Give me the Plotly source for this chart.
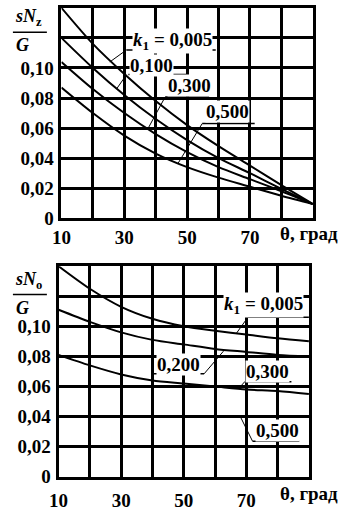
import plotly.graph_objects as go

# ---------------- data ----------------
theta = [10, 20, 30, 40, 50, 60, 70, 80, 90]

# upper chart: sN_z / G
top_k005 = [0.140, 0.116, 0.096, 0.078, 0.062, 0.048, 0.035, 0.022, 0.0095]
top_k100 = [0.120, 0.100, 0.082, 0.066, 0.052, 0.040, 0.030, 0.0195, 0.0095]
top_k300 = [0.104, 0.086, 0.070, 0.056, 0.044, 0.034, 0.026, 0.018, 0.0095]
top_k500 = [0.087, 0.070, 0.055, 0.043, 0.034, 0.027, 0.021, 0.015, 0.0095]

# lower chart: sN_o / G
bot_k005 = [0.140, 0.125, 0.113, 0.105, 0.100, 0.097, 0.0945, 0.092, 0.090]
bot_k200 = [0.111, 0.103, 0.096, 0.091, 0.088, 0.085, 0.083, 0.081, 0.080]
bot_k300 = [0.081, 0.074, 0.068, 0.064, 0.062, 0.060, 0.058, 0.057, 0.055]

x_tickvals = [10, 30, 50, 70]
x_ticktext = ["10", "30", "50", "70"]
y_tickvals = [0, 0.02, 0.04, 0.06, 0.08, 0.10]
y_ticktext = ["0", "0,02", "0,04", "0,06", "0,08", "0,10"]

W, H = 340, 517
FONT = "Liberation Serif"
FS = 19

def px(x):
    return x / W

def py(y):
    return 1 - y / H

fig = go.Figure()

line_style = dict(color="black", width=2, shape="spline", smoothing=0.8)
for ys in (top_k005, top_k100, top_k300, top_k500):
    fig.add_trace(go.Scatter(x=theta, y=ys, mode="lines", line=line_style,
                             xaxis="x", yaxis="y", showlegend=False, hoverinfo="skip"))
for ys in (bot_k005, bot_k200, bot_k300):
    fig.add_trace(go.Scatter(x=theta, y=ys, mode="lines", line=line_style,
                             xaxis="x2", yaxis="y2", showlegend=False, hoverinfo="skip"))

axis_common = dict(showgrid=True, gridcolor="black", gridwidth=2.5, zeroline=False,
                   showline=True, mirror=True, linecolor="black", linewidth=3,
                   ticks="", tickfont=dict(family=FONT, size=FS, color="black", weight="bold"))
xminor = dict(tick0=10, dtick=10, showgrid=True, gridcolor="black", gridwidth=2.5)
yminor = dict(tick0=0, dtick=0.02, showgrid=True, gridcolor="black", gridwidth=2.5)

fig.update_layout(
    width=W, height=H, margin=dict(l=0, r=0, t=0, b=0),
    paper_bgcolor="white", plot_bgcolor="white",
    xaxis=dict(domain=[px(53), px(312)], range=[10, 90], anchor="y",
               tickvals=x_tickvals, ticktext=x_ticktext, minor=xminor, **axis_common),
    yaxis=dict(domain=[py(223), py(8)], range=[0, 0.14], anchor="x",
               tickvals=y_tickvals, ticktext=y_ticktext, minor=yminor,
               ticklabelstandoff=1, **axis_common),
    xaxis2=dict(domain=[px(50), px(308)], range=[10, 90], anchor="y2",
                tickvals=x_tickvals, ticktext=x_ticktext, minor=xminor,
                ticklabelstandoff=5, **axis_common),
    yaxis2=dict(domain=[py(487), py(272)], range=[0, 0.14], anchor="x2",
                tickvals=y_tickvals, ticktext=y_ticktext, minor=yminor,
                ticklabelstandoff=1, **axis_common),
)

ann = []
shapes = []
LFONT = dict(family=FONT, size=FS, color="black", weight="bold")

def label(xref, yref, x, y, text, ul, leader):
    ann.append(dict(x=x, y=y, xref=xref, yref=yref, text=text, showarrow=False,
                    font=LFONT, bgcolor="white", borderpad=0))
    (ux0, ux1, uy) = ul
    shapes.append(dict(type="line", xref=xref, yref=yref, x0=ux0, x1=ux1, y0=uy, y1=uy,
                       line=dict(color="black", width=1.5)))
    (lx0, ly0, lx1, ly1) = leader
    shapes.append(dict(type="line", xref=xref, yref=yref, x0=lx0, y0=ly0, x1=lx1, y1=ly1,
                       line=dict(color="black", width=1)))

k1 = "<i>k</i><sub>1</sub> = 0,005"
# upper chart labels
label("x", "y", 45.5, 0.118, k1, (30.7, 59.1, 0.112), (30.7, 0.112, 25.4, 0.104))
label("x", "y", 38.7, 0.1016, "0,100", (31.3, 50.2, 0.0957), (30.7, 0.0955, 27.6, 0.0862))
label("x", "y", 50.6, 0.0885, "0,300", (43.0, 57.0, 0.0807), (43.0, 0.0807, 37.5, 0.0595))
label("x", "y", 63.0, 0.0708, "0,500", (54.8, 71.5, 0.063), (54.8, 0.063, 47.1, 0.0365))
# lower chart labels
label("x2", "y2", 75.4, 0.114, k1, (70.5, 90.0, 0.106), (70.5, 0.106, 66.7, 0.0950))
label("x2", "y2", 48.4, 0.0749, "0,200", (40.4, 56.5, 0.0684), (56.5, 0.0684, 62.7, 0.0835))
label("x2", "y2", 76.7, 0.0697, "0,300", (69.5, 84.4, 0.0632), (69.5, 0.0632, 67.5, 0.0585))
label("x2", "y2", 79.8, 0.0306, "0,500", (72.0, 86.9, 0.0235), (72.0, 0.0235, 68.3, 0.039))

# axis titles (fractions) and theta labels
TFONT = dict(family=FONT, size=18, color="black", weight="bold")
for (ybar, sub) in ((33, "z"), (301, "о")):
    ann.append(dict(x=px(3), y=py(ybar - 1), xref="paper", yref="paper", showarrow=False,
                    xanchor="left", yanchor="bottom",
                    text="<i>sN</i><sub>" + sub + "</sub>", font=TFONT))
    ann.append(dict(x=px(13), y=py(ybar + 1), xref="paper", yref="paper", showarrow=False,
                    xanchor="center", yanchor="top",
                    text="<i>G</i>", font=TFONT))
    shapes.append(dict(type="line", xref="paper", yref="paper",
                       x0=px(3), x1=px(38), y0=py(ybar), y1=py(ybar),
                       line=dict(color="black", width=1.5)))

for yy in (239, 504):
    ann.append(dict(x=px(340), y=py(yy), xref="paper", yref="paper", showarrow=False,
                    xanchor="right", yanchor="middle", text="θ, град", font=LFONT))

fig.update_layout(annotations=ann, shapes=shapes)
fig.write_html("out.html")
